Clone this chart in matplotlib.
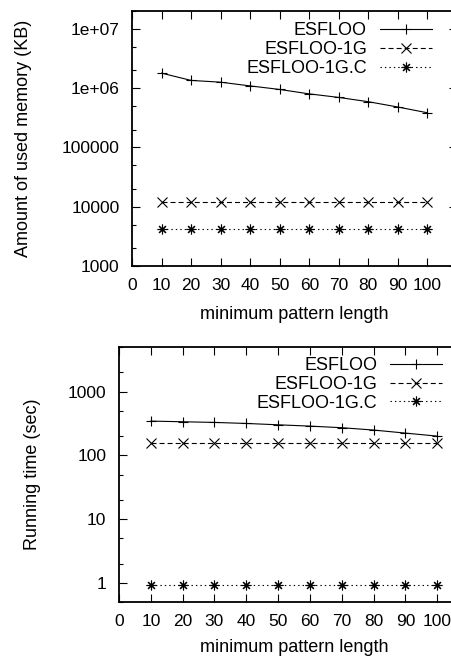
import matplotlib
matplotlib.use("Agg")
import matplotlib.pyplot as plt
from matplotlib.ticker import LogLocator, NullFormatter

plt.rcParams['font.family'] = ['Liberation Sans', 'DejaVu Sans']
plt.rcParams['lines.scale_dashes'] = False

# Data
lengths = [10, 20, 30, 40, 50, 60, 70, 80, 90, 100]
series_names = ["ESFLOO", "ESFLOO-1G", "ESFLOO-1G.C"]

mem_esfloo = [1.79e6, 1.35e6, 1.26e6, 1.09e6, 9.5e5, 8.0e5, 6.97e5, 5.9e5, 4.8e5, 3.84e5]
mem_1g = [12100] * 10
mem_1gc = [4260] * 10

time_esfloo = [344, 336, 328, 316, 301, 287, 271, 249, 223, 200]
time_1g = [154] * 10
time_1gc = [0.93] * 10

x_ticks = [0, 10, 20, 30, 40, 50, 60, 70, 80, 90, 100]
mem_ticks = [1e3, 1e4, 1e5, 1e6, 1e7]
mem_labels = ["1000", "10000", "100000", "1e+06", "1e+07"]
time_ticks = [1, 10, 100, 1000]
time_labels = ["1", "10", "100", "1000"]

W, H = 451, 656
fig = plt.figure(figsize=(W / 100, H / 100), dpi=100)


# axes position from pixel box (left, top, right, bottom)
def px_axes(l, t, r, b):
    return fig.add_axes([l / W, 1 - b / H, (r - l) / W, (b - t) / H])


styles = [
    dict(linestyle='-', marker='+'),
    dict(linestyle=(0, (3.6, 2.2)), marker='x'),
    dict(linestyle=(0, (1.0, 2.2)), marker=(8, 2, 0)),
]


def draw_panel(ax, ys, yticks, ylabels, ylim, ylabel, leg_anchor, xpad):
    for name, y, st in zip(series_names, ys, styles):
        ax.plot(lengths, y, color='black', linewidth=0.8, markersize=7,
                markeredgewidth=0.8, label=name, **st)
    ax.set_yscale('log')
    ax.set_xlim(0, 110)
    ax.set_ylim(*ylim)
    ax.set_xticks(x_ticks)
    ax.set_xticklabels([str(v) for v in x_ticks])
    ax.set_yticks(yticks, ylabels)
    ax.yaxis.set_minor_locator(LogLocator(base=10, subs=(2.0, 5.0)))
    ax.yaxis.set_minor_formatter(NullFormatter())
    ax.tick_params(which='both', direction='in', top=True, right=True, width=0.8)
    ax.tick_params(which='major', length=5.5, labelsize=12.5)
    ax.tick_params(which='minor', length=2.8)
    ax.tick_params(axis='y', which='major', pad=9)
    ax.tick_params(axis='x', which='major', pad=9)
    for sp in ax.spines.values():
        sp.set_linewidth(1.3)
    ax.set_xlabel("minimum pattern length", fontsize=13, labelpad=xpad)
    ax.set_ylabel(ylabel, fontsize=13)
    ax.legend(loc='upper right', bbox_to_anchor=leg_anchor, frameon=False,
              markerfirst=False, numpoints=1, fontsize=13, handlelength=2.9,
              handletextpad=0.7, labelspacing=0.1, borderpad=0, borderaxespad=0)


# Memory panel
ax1 = px_axes(132, 11, 457, 266)
draw_panel(ax1, [mem_esfloo, mem_1g, mem_1gc], mem_ticks, mem_labels,
           (1e3, 2e7), "Amount of used memory (KB)", (0.923, 0.955), 9)
ax1.yaxis.set_label_coords(-(132 - 32) / 325, 0.5)

# Running time panel
ax2 = px_axes(119, 347, 469, 602)
draw_panel(ax2, [time_esfloo, time_1g, time_1gc], time_ticks, time_labels,
           (0.5, 5000), "Running time (sec)", (0.923, 0.96), 7)
ax2.yaxis.set_label_coords(-(119 - 41) / 350, 0.5)

fig.savefig("out.png", dpi=100)
